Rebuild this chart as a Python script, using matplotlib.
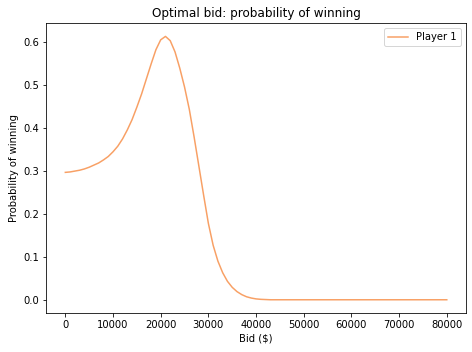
import matplotlib
matplotlib.use("Agg")
import matplotlib.pyplot as plt

# bids sampled every $1000
bids = list(range(0, 80001, 1000))
p_win_head = [
    0.297, 0.298, 0.300, 0.302, 0.305, 0.309, 0.314, 0.319, 0.326, 0.334,
    0.345, 0.358, 0.375, 0.396, 0.420, 0.449, 0.480, 0.515, 0.550, 0.583,
    0.606, 0.614, 0.604, 0.578, 0.540, 0.496, 0.444, 0.380, 0.312, 0.244,
    0.178, 0.127, 0.090, 0.063, 0.043, 0.029, 0.019, 0.012, 0.007, 0.004,
    0.002, 0.001, 0.0005,
]
p_win_tail = [0.0] * (len(bids) - len(p_win_head))
p_win = p_win_head + p_win_tail

fig = plt.figure(figsize=(472 / 72, 352 / 72), dpi=72)
ax = fig.add_subplot(111)
ax.plot(bids, p_win, color="#f8a065", linewidth=1.5, label="Player 1")
ax.set_title("Optimal bid: probability of winning")
ax.set_xlabel("Bid ($)")
ax.set_ylabel("Probability of winning")
ax.set_xticks(range(0, 80001, 10000))
ax.legend(loc="upper right")
fig.subplots_adjust(left=0.098, right=0.987, top=0.934, bottom=0.111)
fig.savefig("out.png", dpi=72)
